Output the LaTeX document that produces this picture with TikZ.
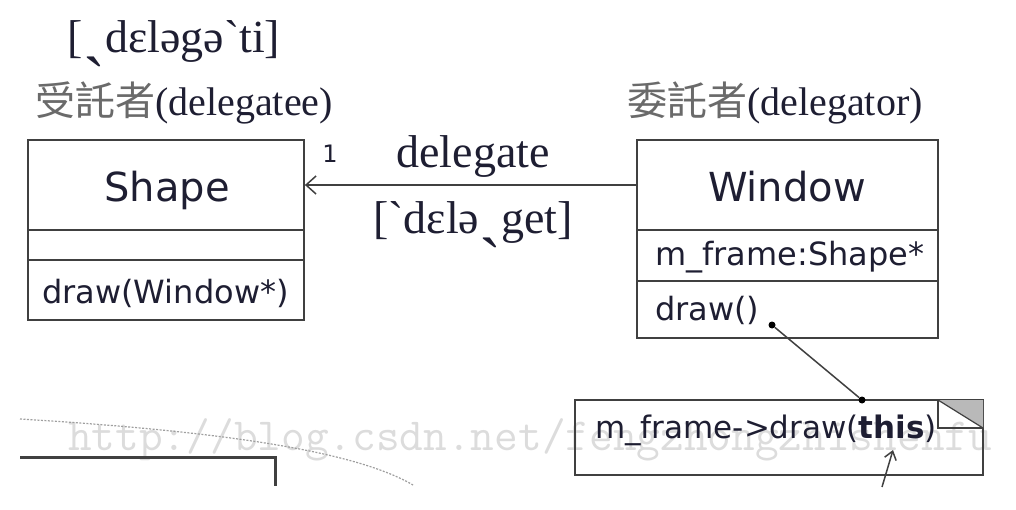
\documentclass[tikz,border=0pt]{standalone}
\usepackage{fontspec}
\setmainfont{Liberation Serif}
\setsansfont{DejaVu Sans}
\newfontfamily\cjk{Noto Sans CJK TC}
\usepackage{tikz}
\usetikzlibrary{arrows.meta,calc}
\definecolor{ink}{HTML}{1E1E32}
\definecolor{edge}{HTML}{404040}
\definecolor{cjkgray}{HTML}{6A6A6A}
\definecolor{wmark}{HTML}{DCDCDC}
\newcommand\lowtone{{\fontsize{66}{66}\selectfont ˏ}}

\begin{document}
\begin{tikzpicture}[x=1pt,y=-1pt,
  cls/.style={draw=edge,line width=1.8pt,inner sep=0pt},
  sep/.style={draw=edge,line width=1.8pt},
  big/.style={font=\sffamily\fontsize{40}{42}\selectfont,text=ink,anchor=base,inner sep=0pt},
  member/.style={font=\sffamily\fontsize{32}{34}\selectfont,text=ink,anchor=base west,inner sep=0pt},
  ipa/.style={font=\fontsize{46}{48}\selectfont,text=ink,anchor=base,inner sep=0pt},
  role/.style={font=\fontsize{40}{42}\selectfont,text=ink,anchor=base west,inner sep=0pt},
  dot/.style={circle,fill=black,inner sep=0pt,minimum size=7pt}]
\useasboundingbox (0,0) rectangle (1016,510);
\begin{scope}
\clip (0,0) rectangle (1016,510);
\node[anchor=base west,inner sep=0pt,text=wmark,font=\ttfamily\fontsize{46}{48}\selectfont] (wm) at (68,450) {http://blog.csdn.net/fengzhongzhishenfu};
\end{scope}
\draw[gray!75,dash pattern=on 2pt off 1.5pt,line width=1.2pt] (20,419) .. controls (200,430) and (350,448) .. (413,485);
\draw[edge,line width=3pt] (20,457) -- (275,457) -- (275,486);

\node[ipa] (ipaee) at (174,53) {[\lowtone dɛləgəˋti]};
\node[role] (ee) at (35,116) {{\cjk\color{cjkgray}受託者}(delegatee)};
\node[role] (or) at (627,116) {{\cjk\color{cjkgray}委託者}(delegator)};

\node[cls,minimum width=276pt,minimum height=180pt] (shape) at (166,230) {};
\draw[sep] (28,230) -- (304,230);
\draw[sep] (28,260) -- (304,260);
\node[big] (shapename) at (167,202) {Shape};
\node[member] (op1) at (42,303) {draw(Window*)};

\node[cls,minimum width=301pt,minimum height=198pt] (window) at (787.5,239) {};
\draw[sep] (637,230) -- (938,230);
\draw[sep] (637,281) -- (938,281);
\node[big] (windowname) at (787,202) {Window};
\node[member] (attr) at (655,266) {m\_frame:Shape*};
\node[member] (op2) at (655,320) {draw()};

\coordinate (aw) at (0,185);
\draw[edge,line width=1.5pt,-{Straight Barb[length=10pt,width=18pt]}] (window.west |- aw) -- (shape.east |- aw);
\node[font=\sffamily\fontsize{24}{26}\selectfont,text=ink,anchor=base] (mult) at (330,163) {1};
\node[ipa] (verb) at (473,168) {delegate};
\node[ipa] (ipaget) at (473,234) {[ˋdɛlə\lowtone get]};

\node[cls,minimum width=408pt,minimum height=75pt] (note) at (779,437.5) {};
\fill[gray!55] (938,400) -- (983,400) -- (983,428) -- cycle;
\draw[edge,line width=1.5pt] (938,400) -- (938,428) -- (983,428);
\draw[edge,line width=1.2pt] (938,400) -- (983,428);
\node[font=\sffamily\fontsize{31}{33}\selectfont,text=ink,anchor=base west,inner sep=0pt] (body) at (595,438) {m\_frame->draw(\textbf{this})};

\node[dot] (from) at (772,325) {};
\node[dot] (to) at (862,400) {};
\draw[edge,line width=1.5pt] (from) -- (to);

\coordinate (ptr) at (882,487);
\coordinate (thisend) at (893,450);
\draw[edge,line width=1.5pt,-{Straight Barb[length=8pt,width=12pt]}] (ptr) -- (thisend);
\end{tikzpicture}
\end{document}
